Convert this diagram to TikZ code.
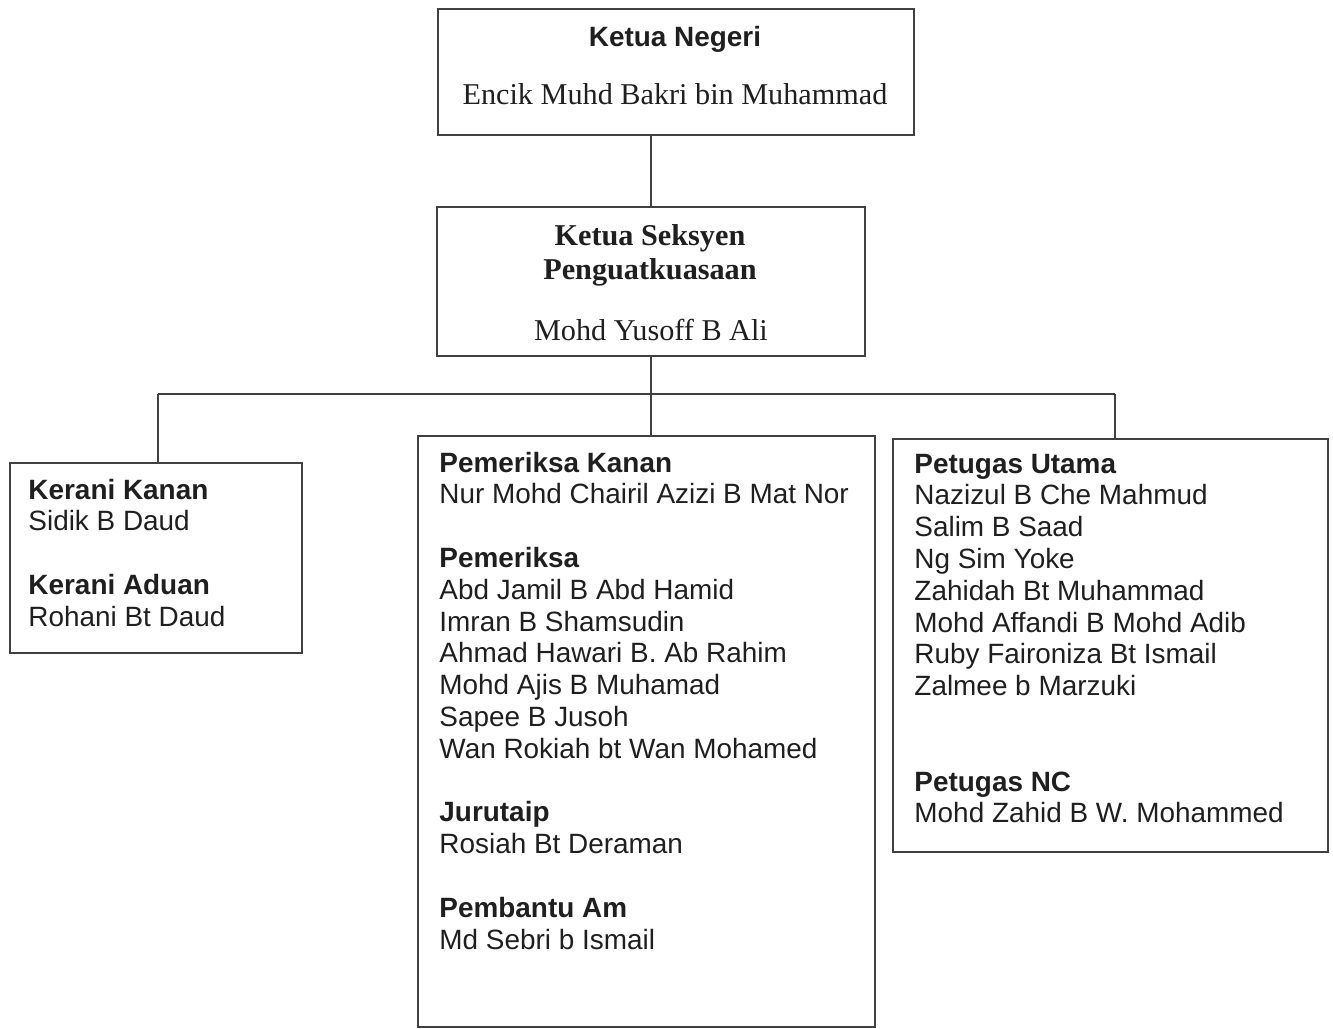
\documentclass[tikz,border=0pt]{standalone}
\usepackage{fontspec}
\setmainfont{Liberation Serif}
\setsansfont{Liberation Sans}
\usetikzlibrary{fit}
\begin{document}
\begin{tikzpicture}[x=0.43pt,y=-0.43pt,
  every node/.style={text=black!88},
  unitbox/.style={draw=black!75,line width=0.8pt,inner sep=0pt},
  link/.style={draw=black!75,line width=0.8pt},
  headline/.style={anchor=base,inner sep=0pt,font=\fontsize{13}{15}\selectfont},
  listline/.style={anchor=base west,inner sep=0pt,font=\sffamily\fontsize{12}{13.8}\selectfont}]
\pgfmathsetmacro{\kline}{31.8}
\useasboundingbox (0,0) rectangle (1333,1029);
% boxes
\node[unitbox,fit={(438,9) (914,135)}] (negeri) {};
\node[unitbox,fit={(437,207) (865,356)}] (seksyen) {};
\node[unitbox,fit={(10,463) (302,653)}] (kerani) {};
\node[unitbox,fit={(418,436) (875,1027)}] (pemeriksa) {};
\node[unitbox,fit={(893,439) (1328,852)}] (petugas) {};
% heads
\node[headline,font=\sffamily\bfseries\fontsize{12}{13.8}\selectfont] (negeri-title) at (675,46) {Ketua Negeri};
\node[headline] (negeri-name) at (675,104) {Encik Muhd Bakri bin Muhammad};
\node[headline,font=\bfseries\fontsize{13}{15}\selectfont] (seksyen-title) at (650,245) {Ketua Seksyen};
\node[headline,font=\bfseries\fontsize{13}{15}\selectfont] (seksyen-unit) at (650,279) {Penguatkuasaan};
\node[headline] (seksyen-name) at (651,340) {Mohd Yusoff B Ali};
% staff lists
\foreach \i/\t in {0/{\textbf{Kerani Kanan}},1/{Sidik B Daud},3/{\textbf{Kerani Aduan}},4/{Rohani Bt Daud}}
  {\node[listline] (kerani-\i) at (28,499+\i*\kline) {\t};}
\foreach \i/\t in {0/{\textbf{Pemeriksa Kanan}},1/{Nur Mohd Chairil Azizi B Mat Nor},3/{\textbf{Pemeriksa}},4/{Abd Jamil B Abd Hamid},5/{Imran B Shamsudin},6/{Ahmad Hawari B. Ab Rahim},7/{Mohd Ajis B Muhamad},8/{Sapee B Jusoh},9/{Wan Rokiah bt Wan Mohamed},11/{\textbf{Jurutaip}},12/{Rosiah Bt Deraman},14/{\textbf{Pembantu Am}},15/{Md Sebri b Ismail}}
  {\node[listline] (pemeriksa-\i) at (439,472+\i*\kline) {\t};}
\foreach \i/\t in {0/{\textbf{Petugas Utama}},1/{Nazizul B Che Mahmud},2/{Salim B Saad},3/{Ng Sim Yoke},4/{Zahidah Bt Muhammad},5/{Mohd Affandi B Mohd Adib},6/{Ruby Faironiza Bt Ismail},7/{Zalmee b Marzuki},10/{\textbf{Petugas NC}},11/{Mohd Zahid B W. Mohammed}}
  {\node[listline] (petugas-\i) at (914,473+\i*\kline) {\t};}
% lines
\coordinate (busL) at (158,394);
\coordinate (busR) at (1115,394);
\draw[link] (negeri.south -| seksyen.north) -- (seksyen.north);
\draw[link] (seksyen.south) -- (seksyen.south |- busL);
\draw[link] (busL) -- (busR);
\draw[link] (busL) -- (busL |- kerani.north);
\draw[link] (seksyen.south |- busL) -- (seksyen.south |- pemeriksa.north);
\draw[link] (busR) -- (busR |- petugas.north);
\end{tikzpicture}
\end{document}
